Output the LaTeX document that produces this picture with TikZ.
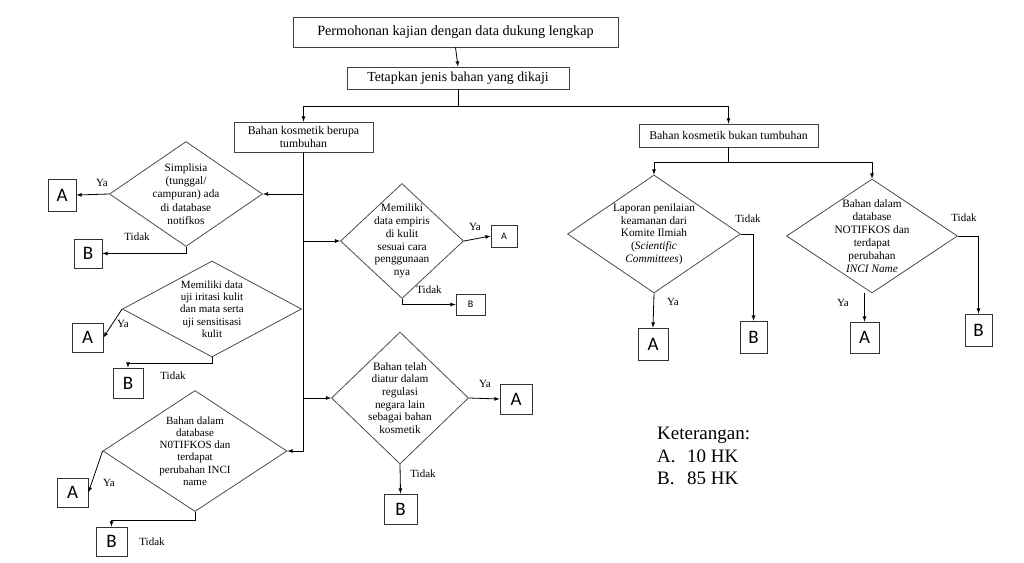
\documentclass[tikz,border=0pt]{standalone}
\usepackage{fontspec}
\setmainfont{Liberation Serif}
\newfontfamily\boxfont{Carlito}
\usetikzlibrary{shapes.geometric}

\begin{document}
\begin{tikzpicture}[x=1pt,y=-1pt,
	box/.style={draw=black!75,line width=0.8pt,inner sep=0pt,align=center},
	dia/.style={draw=black!70,line width=0.8pt,diamond,inner sep=0pt},
	ab/.style={draw=black!80,line width=0.8pt,inner sep=0pt,font=\boxfont\fontsize{19}{19}\selectfont},
	abs/.style={ab,font=\boxfont\fontsize{10}{10}\selectfont},
	txt/.style={align=center,inner sep=0pt,font=\fontsize{11.3}{12.7}\selectfont},
	lbl/.style={inner sep=0pt,font=\fontsize{11}{11}\selectfont},
	con/.style={line width=0.8pt,-latex},
	spine/.style={line width=1.6pt}]
			%%%%% START %%%%%
			\useasboundingbox (0,0) rectangle (1024,562);
			
			\node[box,minimum width=325pt,minimum height=30pt,font=\fontsize{14.2}{16}\selectfont] (perm) at (455.5,32) {Permohonan kajian dengan data dukung lengkap};
			\node[box,minimum width=222pt,minimum height=22pt,font=\fontsize{13.8}{15}\selectfont] (tetap) at (458,78) {Tetapkan jenis bahan yang dikaji};
			\node[box,minimum width=139pt,minimum height=30pt,font=\fontsize{11.8}{12.3}\selectfont] (tumb) at (303.5,137) {Bahan kosmetik berupa\\tumbuhan};
			\node[box,minimum width=179pt,minimum height=23pt,font=\fontsize{11.8}{13}\selectfont] (bukan) at (728.5,135.5) {Bahan kosmetik bukan tumbuhan};
			
			\draw[con] (perm.south) -- (tetap.north);
			\draw[line width=0.8pt] (tetap.south) -- ++(0,17) coordinate (split);
			\draw[con] (split) -| (tumb.north);
			\draw[con] (split) -| (bukan.north);
			
			% diamonds under tumbuhan
			\node[dia,minimum width=153pt,minimum height=105pt] (simp) at (186,194) {};
			\node[txt,font=\fontsize{11.3}{13.3}\selectfont] (simpt) at (simp) {Simplisia\\(tunggal/\\campuran) ada\\di database\\notifkos};
			\node[dia,minimum width=179pt,minimum height=96pt] (irit) at (212,309) {};
			\node[txt,font=\fontsize{11}{12.3}\selectfont] (iritt) at (irit) {Memiliki data\\uji iritasi kulit\\dan mata serta\\uji sensitisasi\\kulit};
			\node[dia,minimum width=184pt,minimum height=121pt] (inci) at (195,451) {};
			\node[txt,font=\fontsize{11}{12.3}\selectfont] (incit) at (inci) {Bahan dalam\\database\\N0TIFKOS dan\\terdapat\\perubahan INCI\\name};
			\node[dia,minimum width=123pt,minimum height=115pt] (emp) at (402,241) {};
			\node[txt] (empt) at (emp) {Memiliki\\data empiris\\di kulit\\sesuai cara\\penggunaan\\nya};
			\node[dia,minimum width=137pt,minimum height=132pt] (regu) at (400,398) {};
			\node[txt] (regut) at (regu) {Bahan telah\\diatur dalam\\regulasi\\negara lain\\sebagai bahan\\kosmetik};
			
			\draw[spine] (tumb.south) -- (tumb.south |- inci.east) coordinate (spend);
			\draw[con] (tumb.south |- simp.east) -- (simp.east);
			\draw[con] (spend) -- (inci.east);
			\draw[con] (tumb.south |- emp.west) -- (emp.west);
			\draw[con] (tumb.south |- regu.west) -- (regu.west);
			
			% A / B boxes left
			\node[ab,minimum width=28pt,minimum height=32pt] (a1) at (62,195) {A};
			\node[ab,minimum width=28pt,minimum height=29pt] (b1) at (88,253.5) {B};
			\node[ab,minimum width=31pt,minimum height=29pt] (a2) at (87.5,337.5) {A};
			\node[ab,minimum width=30pt,minimum height=30pt] (b2) at (128,383) {B};
			\node[ab,minimum width=31pt,minimum height=29pt] (a3) at (72.5,492.5) {A};
			\node[ab,minimum width=31pt,minimum height=29pt] (b3) at (111.5,541.5) {B};
			\node[abs,minimum width=26pt,minimum height=22pt] (a4) at (504,236) {A};
			\node[abs,minimum width=29pt,minimum height=21pt] (b4) at (470.5,304.5) {B};
			\node[ab,minimum width=32pt,minimum height=30pt] (a5) at (516,399) {A};
			\node[ab,minimum width=33pt,minimum height=30pt] (b5) at (400.5,509) {B};
			
			\draw[con] (simp.west) -- (a1.east);
			\draw[con] (simp.south) |- (b1.east);
			\draw[con] (irit.west) -- (a2.east);
			\draw[con] (irit.south) -- ++(0,6) -| (b2.north);
			\draw[con] (inci.west) -- (a3.east);
			\draw[con] (inci.south) -- ++(0,8) -| (b3.north);
			\draw[con] (emp.east) -- (a4.west);
			\draw[con] (emp.south) |- (b4.west);
			\draw[con] (regu.east) -- (a5.west);
			\draw[con] (regu.south) -- (b5.north);
			
			\node[lbl] (ya1) at (102,183) {Ya};
			\node[lbl] (td1) at (137,237) {Tidak};
			\node[lbl] (ya2) at (123,324) {Ya};
			\node[lbl] (td2) at (173,376) {Tidak};
			\node[lbl] (ya3) at (109,483) {Ya};
			\node[lbl] (td3) at (152,542) {Tidak};
			\node[lbl] (ya4) at (475,227) {Ya};
			\node[lbl] (td4) at (429,290) {Tidak};
			\node[lbl] (ya5) at (485,384) {Ya};
			\node[lbl] (td5) at (423,474) {Tidak};
			
			% bukan tumbuhan
			\node[dia,minimum width=173pt,minimum height=118pt] (lapor) at (654,234) {};
			\node[txt] (laport) at (lapor) {Laporan penilaian\\keamanan dari\\Komite Ilmiah\\(\textit{Scientific}\\\textit{Committees})};
			\node[dia,minimum width=171pt,minimum height=114pt] (notif) at (872,236) {};
			\node[txt,font=\fontsize{11.3}{13}\selectfont] (notift) at (notif) {Bahan dalam\\database\\NOTIFKOS dan\\terdapat\\perubahan\\\textit{INCI Name}};
			
			\draw[line width=0.8pt] (bukan.south) -- ++(0,15) coordinate (split2);
			\draw[con] (split2) -| (lapor.north);
			\draw[con] (split2) -| (notif.north);
			
			\node[ab,minimum width=30pt,minimum height=32pt] (a6) at (653,344) {A};
			\node[ab,minimum width=27pt,minimum height=32pt] (b6) at (753.5,337) {B};
			\node[ab,minimum width=29pt,minimum height=31pt] (a7) at (864.5,337.5) {A};
			\node[ab,minimum width=27pt,minimum height=32pt] (b7) at (978.5,330) {B};
			
			\draw[con] (lapor.south) -- (a6.north);
			\draw[con] (lapor.east) -| (b6.north);
			\draw[con] (a7.north |- notif.south) -- (a7.north);
			\draw[con] (notif.east) -| (b7.north);
			
			\node[lbl] (ya6) at (673,302) {Ya};
			\node[lbl] (td6) at (748,219) {Tidak};
			\node[lbl] (ya7) at (843,303) {Ya};
			\node[lbl] (td7) at (964,218) {Tidak};
			
			\node[anchor=north west,align=left,inner sep=0pt,font=\fontsize{19}{22.5}\selectfont] (ket) at (657,427) {Keterangan:\\\makebox[30pt][l]{A.}10 HK\\\makebox[30pt][l]{B.}85 HK};
			%%%%% END %%%%%
\end{tikzpicture}
\end{document}
